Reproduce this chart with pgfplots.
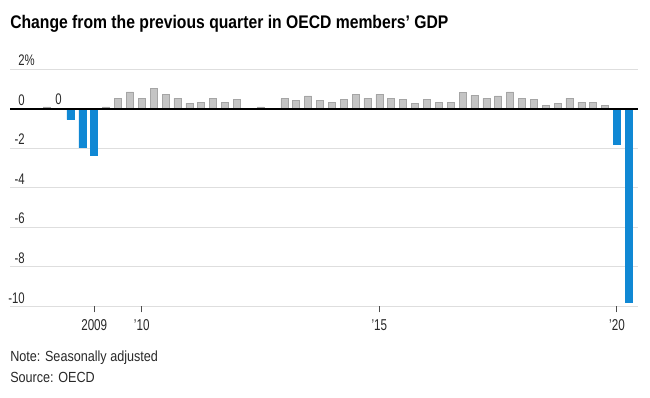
\documentclass[border=0pt]{standalone}
\usepackage{fontspec}
\setmainfont{Liberation Sans}[FakeStretch=0.86]
\newfontfamily\narrow{Liberation Sans}[FakeStretch=0.74]
\usepackage{pgfplots}
\pgfplotsset{compat=1.18}
\definecolor{barblue}{RGB}{16,136,212}
\definecolor{bargrey}{RGB}{196,196,196}
\definecolor{bargreyedge}{RGB}{165,165,165}
\definecolor{gridgrey}{RGB}{222,222,222}
\definecolor{txt}{RGB}{40,40,40}
\begin{document}
\begin{tikzpicture}
\useasboundingbox (0,0) rectangle (487.5pt,298.5pt);
\node[anchor=base west, inner sep=0pt, text=black, font=\fontsize{13.7pt}{16pt}\selectfont\bfseries] at (7.5pt,276.75pt) {Change from the previous quarter in OECD members’ GDP};
\begin{axis}[
 at={(7.5pt,68.625pt)}, anchor=south west,
 scale only axis, width=471pt, height=177.9pt,
 xmin=-3.09, xmax=49.77, ymin=-10, ymax=2,
 axis line style={draw=none},
 ymajorgrids, grid style={gridgrey, line width=0.75pt},
 ytick={-10,-8,-6,-4,-2,0,2},
 yticklabels={-10,-8,-6,-4,-2,0,2\rlap{\%}},
 ytick style={draw=none},
 yticklabel style={anchor=base east, inner sep=0pt, xshift=11.25pt, yshift=2.6pt, text=txt, font=\narrow\fontsize{11.5pt}{13pt}\selectfont},
 xtick={4,8,28,48},
 xticklabels={2009,’10,’15,’20},
 xtick pos=bottom, xtick align=outside, major tick length=4.5pt,
 xtick style={draw=black!70, line width=0.75pt},
 xticklabel style={anchor=base, inner sep=0pt, yshift=-13.6pt, text=txt, font=\narrow\fontsize{11.8pt}{13pt}\selectfont},
 clip=false,
]
\addplot[ybar, bar width=5.25pt, bar shift=0pt, fill=bargrey, draw=bargreyedge, line width=0.4pt] coordinates {
(0,0.1) (5,0.1) (6,0.53) (7,0.86) (8,0.53) (9,1.03) (10,0.73) (11,0.53) (12,0.27) (13,0.34) (14,0.53) (15,0.34) (16,0.47) (18,0.1) (20,0.51) (21,0.44) (22,0.66) (23,0.44) (24,0.32) (25,0.46) (26,0.73) (27,0.53) (28,0.73) (29,0.53) (30,0.47) (31,0.27) (32,0.46) (33,0.34) (34,0.34) (35,0.85) (36,0.68) (37,0.53) (38,0.66) (39,0.86) (40,0.53) (41,0.47) (42,0.17) (43,0.27) (44,0.53) (45,0.34) (46,0.34) (47,0.17)
};
\addplot[ybar, bar width=5.25pt, bar shift=0pt, fill=barblue, draw=barblue, line width=0.4pt] coordinates {
(2,-0.55) (3,-1.97) (4,-2.33) (48,-1.8) (49,-9.78)
};
\draw[black, line width=1.1pt] (axis cs:-3.09,0) -- (axis cs:49.77,0);
\node[anchor=base, inner sep=0pt, text=txt, font=\narrow\fontsize{11.5pt}{13pt}\selectfont, yshift=3pt] at (axis cs:1,0) {0};
\end{axis}
\node[anchor=base west, inner sep=0pt, text=txt, font=\fontsize{11pt}{13pt}\selectfont] at (7.5pt,27pt) {Note: Seasonally adjusted};
\node[anchor=base west, inner sep=0pt, text=txt, font=\fontsize{11pt}{13pt}\selectfont] at (7.5pt,11.25pt) {Source: OECD};
\end{tikzpicture}
\end{document}
